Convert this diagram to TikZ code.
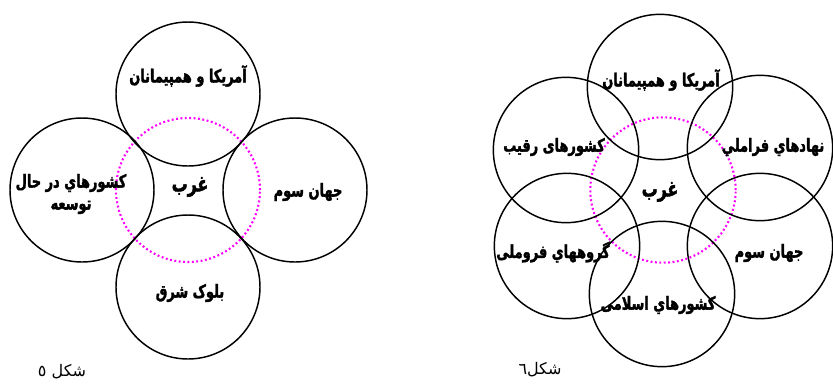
\documentclass[tikz,border=0pt]{standalone}
\usepackage{fontspec}
\newfontfamily\farsibold[Script=Arabic, FakeStretch=0.72, FakeBold=1.8]{DejaVu Sans Bold}
\newfontfamily\farsi[Script=Arabic]{DejaVu Sans}
\TeXXeTstate=1
\definecolor{westmag}{RGB}{255,0,255}
\tikzset{
  ring/.style={draw=black, line width=1.1pt},
  westring/.style={draw=westmag, line width=1.6pt, dash pattern=on 1.4pt off 1.9pt},
  lbl/.style={font=\farsibold\fontsize{13.5}{16.5}\selectfont, inner sep=0pt, align=center},
  midlbl/.style={lbl, font=\farsibold\fontsize{16.5}{18}\selectfont},
  figcap/.style={font=\farsi\fontsize{12}{14}\selectfont, inner sep=0pt}
}
\newcommand{\fa}[1]{\beginR #1\endR}
\begin{document}
\begin{tikzpicture}[x=0.75pt,y=-0.75pt]
\useasboundingbox (0,0) rectangle (833,383);
% figure 5
\draw [westring] (188,190) circle (54pt);
\draw [ring] (188,94) circle (54pt);
\draw [ring] (82,190) circle (54pt);
\draw [ring] (295,190) circle (54pt);
\draw [ring] (188,287) circle (54pt);
\node [lbl] (fiveTop) at (188,76) {\fa{آمریکا و همپیمانان}};
\node [lbl] (fiveLeft) at (71,194) {\fa{کشورهاي در حال}\\\fa{توسعه}};
\node [midlbl] (fiveMid) at (190,187) {\fa{غرب}};
\node [lbl] (fiveRight) at (308,192) {\fa{جهان سوم}};
\node [lbl] (fiveBot) at (190,293) {\fa{بلوک شرق}};
\node [figcap] (fiveCap) at (62,372) {\fa{شکل ٥}};
% figure 6
\draw [westring] (663,190) circle (54.5pt);
\draw [ring] (660,87) circle (54.5pt);
\draw [ring] (760,148) circle (54.5pt);
\draw [ring] (760,246) circle (54.5pt);
\draw [ring] (662,294) circle (54.5pt);
\draw [ring] (567,246) circle (54.5pt);
\draw [ring] (566,150) circle (54.5pt);
\node [lbl] (sixTop) at (661,80) {\fa{آمریکا و همپیمانان}};
\node [lbl] (sixUL) at (554,147) {\fa{کشورهای رقیب}};
\node [lbl] (sixUR) at (773,147) {\fa{نهادهاي فراملي}};
\node [midlbl] (sixMid) at (660,192) {\fa{غرب}};
\node [lbl] (sixLL) at (553,252) {\fa{گروههاي فروملی}};
\node [lbl] (sixLR) at (769,253) {\fa{جهان سوم}};
\node [lbl] (sixBot) at (658,305) {\fa{کشورهاي اسلامی}};
\node [figcap] (sixCap) at (540,370) {\fa{شکل٦}};
\end{tikzpicture}
\end{document}
